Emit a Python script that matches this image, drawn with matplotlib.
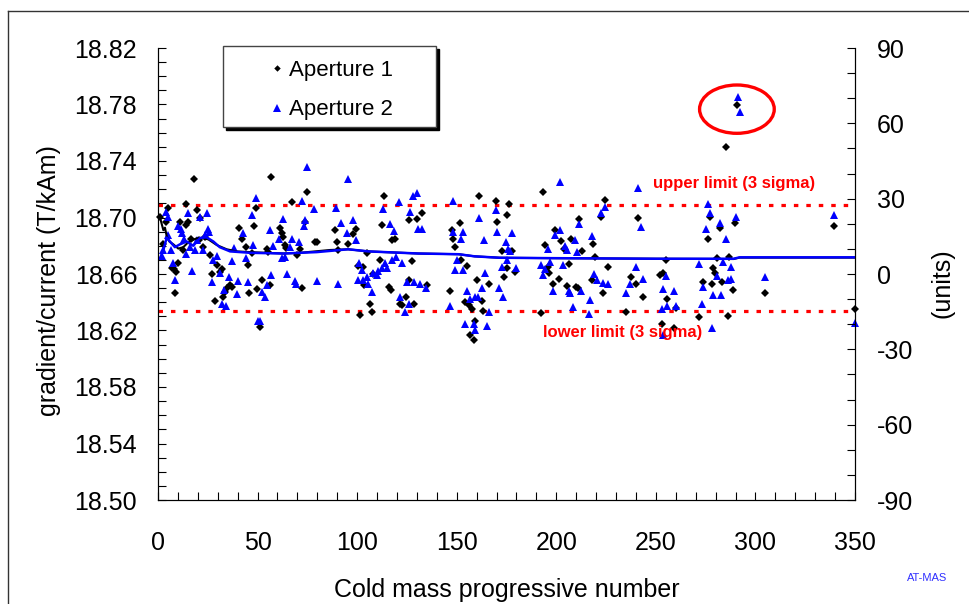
import numpy as np
import matplotlib
matplotlib.use("Agg")
import matplotlib.pyplot as plt
from matplotlib.patches import Ellipse, Rectangle
from matplotlib.ticker import MultipleLocator, FixedLocator

plt.rcParams['font.family'] = ['Liberation Sans', 'DejaVu Sans']
plt.rcParams['axes.unicode_minus'] = False

# aperture 1 (black diamonds)
ap1_x = [1, 2.7, 4, 5.2, 6.9, 8, 9, 8.5, 10.2, 11, 12.7, 14.1, 14.1, 15.2, 16.4, 18.2, 19.4, 20.7, 21.1, 22.8,
         23.6, 26.1, 27, 28.6, 29.5, 31.1, 32, 32.8, 33.7, 34.5, 36.2, 37, 40.8, 42, 44.2, 45.4, 45.7, 47.1, 48.2, 49.2,
         49.9, 51.2, 52.1, 54.6, 55.4, 56.3, 56.8, 61.3, 62.1, 62.9, 63.8, 64.3, 67.2, 69.7, 71.3, 72.2, 73.8, 74.7, 78.9, 79.7,
         88.9, 89.7, 90.6, 95.6, 97.8, 99.4, 100.6, 101.5, 103.1, 103.3, 104.8, 106.5, 107.3, 108.1, 111.5, 112.3, 113.7, 116.2, 117, 117.5,
         119, 121.5, 122.4, 124.6, 125.8, 126.2, 127.4, 128.7, 130, 132.4, 135, 146.6, 147.5, 148.3, 149, 151.7, 152, 154.2, 155, 156,
         157.6, 159.2, 160.4, 161.4, 162.5, 163.4, 156.7, 158.7, 166.4, 169.8, 170.3,
         172.6, 173.8, 175.1, 175.4, 176.4, 177.6, 179.3, 192.2, 193.2, 194.4, 196, 196.5, 198.2, 199.4, 201.5, 202.2, 203.9, 205.3, 206.6, 207.3,
         209.9, 211.1, 211.6, 212.8, 217.8, 218.3, 219.5, 222.3, 223.7, 224.5, 226.2, 235, 237.4, 240.1, 241.2, 243.4, 252.1, 253.5, 253, 255.1,
         255.5, 260.2, 259.2, 271.9, 273.9, 276.4, 277.2, 278.1, 278.9, 279.8, 280.9, 282.3, 283.1, 285.3, 286.4, 286.9, 288.6, 289.8, 290.7, 304.9,
         339.5, 350]
ap1_y = [18.7006, 18.6812, 18.697, 18.7065, 18.664, 18.6635, 18.6616, 18.6468, 18.668, 18.697, 18.677, 18.7096, 18.6947, 18.697, 18.6846, 18.727, 18.7053, 18.6841, 18.6994, 18.6793,
         18.6864, 18.6735, 18.6598, 18.6411, 18.6664, 18.6616, 18.6633, 18.6439, 18.6475, 18.6499, 18.6522, 18.651, 18.6924, 18.6846, 18.6789, 18.6664, 18.6468, 18.6746, 18.694, 18.7065,
         18.6492, 18.6227, 18.6558, 18.6775, 18.6758, 18.6522, 18.7284, 18.6924, 18.6893, 18.686, 18.6805, 18.6782, 18.7108, 18.6735, 18.6775, 18.6499, 18.697, 18.7183, 18.6829, 18.6829,
         18.691, 18.683, 18.677, 18.681, 18.688, 18.692, 18.666, 18.631, 18.665, 18.652, 18.675, 18.639, 18.633, 18.660, 18.670, 18.695, 18.715, 18.651, 18.649, 18.684,
         18.685, 18.639, 18.638, 18.644, 18.656, 18.698, 18.669, 18.639, 18.699, 18.703, 18.652, 18.648, 18.691, 18.685, 18.679, 18.696, 18.670, 18.640, 18.666, 18.638,
         18.635, 18.627, 18.656, 18.715, 18.641, 18.634, 18.617, 18.613, 18.653, 18.712, 18.697,
         18.6765, 18.6577, 18.664, 18.7018, 18.7096, 18.6765, 18.6616, 18.6322, 18.7183, 18.6805, 18.6652, 18.6605, 18.6529, 18.6911, 18.6562, 18.6836, 18.6775, 18.6515, 18.6669, 18.6845,
         18.6506, 18.6499, 18.6987, 18.6763, 18.6558, 18.6812, 18.6718, 18.7006, 18.6468, 18.7124, 18.6652, 18.6333, 18.6577, 18.6529, 18.6999, 18.6435, 18.6593, 18.6605, 18.6246, 18.670,
         18.6421, 18.6357, 18.6216, 18.6294, 18.6546, 18.6846, 18.7001, 18.6529, 18.664, 18.6605, 18.6711, 18.6924, 18.6546, 18.7501, 18.6303, 18.6718, 18.6487, 18.6963, 18.7796, 18.6468,
         18.694, 18.635]

# aperture 2 (blue triangles)
ap2_x = [1.9, 2.7, 4, 5, 5, 6.4, 7.4, 8.5, 10.2, 11.3, 12.3, 13, 14, 15.2, 16.2, 17.3, 18.6, 19.4, 20.9, 22.4,
         23.7, 24.4, 25.3, 25.8, 27, 27.8, 29.5, 31.2, 32, 33.3, 34.1, 35.8, 37, 38.2, 39.5, 40.4, 42.9, 44.2, 45.4, 47,
         47.9, 49.2, 50.4, 51.2, 52, 53.7, 54.5, 56.3, 56.6, 57.9, 61, 62.3, 63, 63.9, 65, 66.2, 67.3, 68.6, 69.4, 71,
         72.2, 73.3, 73.8, 75, 78.5, 79.7,
         89.4, 91.8, 95, 95.6, 97.8, 99.4, 90.6, 101.1, 102.3, 100.6, 103.1, 104.8, 105.6, 107.3, 108.1, 109.8, 110.7, 112.3, 114, 114.8,
         112.8, 116.5, 118.5, 117.4, 119.5, 122.4, 121.2, 121.5, 124, 125.2, 126.2, 126.6, 128, 130, 128.7, 131.6, 134.6, 130.8, 132.4, 147.9,
         148.3, 153.4, 152, 146.7, 150, 149.2, 153.4, 155, 156.7, 159.2, 160.5, 162.6, 154.4, 158.7, 159.2, 165.1, 161.4, 163.7, 164.2, 166.4,
         169.8, 170.1,
         171.4, 172.6, 173.4, 174.8, 175.5, 175.9, 176.8, 177.6, 179.8, 192.2, 193.5, 194.4, 196, 196.9, 198.2, 199.4, 201.9, 201.9, 203.3, 204.4,
         205.6, 206.6, 206.9, 208.3, 209.4, 210.3, 211.6, 212.3, 217, 216.3, 217.8, 219, 220.3, 223.7, 226.2, 222.5, 224.5, 235, 237.1, 240.1,
         241.2, 242.4, 243.4, 253, 253.8, 255.1, 253.5,
         291, 292.3, 276.4, 277.2, 275.2, 282.3, 285.3, 271.9, 273.9, 273.1, 280.6, 278.9, 282.6, 283.6, 286.4, 287.6, 287.6, 290.3, 278.1, 304.9,
         339.5, 350, 259.2, 260.2, 255.5]
ap2_y = [18.673, 18.677, 18.704, 18.7006, 18.6876, 18.677, 18.668, 18.656, 18.694, 18.692, 18.689, 18.6845, 18.674, 18.703, 18.679, 18.662, 18.677, 18.684, 18.7006, 18.677,
         18.6876, 18.703, 18.692, 18.690, 18.654, 18.670, 18.673, 18.6605, 18.639, 18.649, 18.637, 18.658, 18.669, 18.6785, 18.646, 18.655, 18.689, 18.671, 18.654, 18.702,
         18.6805, 18.714, 18.627, 18.627, 18.6475, 18.644, 18.652, 18.691, 18.659, 18.680, 18.6845, 18.671, 18.699, 18.672, 18.660, 18.679, 18.6845, 18.655, 18.653, 18.683,
         18.712, 18.694, 18.698, 18.736, 18.706, 18.655,
         18.7065, 18.696, 18.689, 18.727, 18.698, 18.684, 18.653, 18.668, 18.663, 18.656, 18.656, 18.658, 18.653, 18.647, 18.6605, 18.659, 18.662, 18.664, 18.668, 18.664,
         18.706, 18.6954, 18.6906, 18.670, 18.672, 18.668, 18.711, 18.644, 18.633, 18.6546, 18.639, 18.704, 18.715, 18.717, 18.654, 18.653, 18.650, 18.692, 18.692, 18.712,
         18.690, 18.690, 18.6845, 18.637, 18.670, 18.663, 18.663, 18.648, 18.642, 18.644, 18.644, 18.650, 18.6246, 18.6246, 18.620, 18.6235, 18.700, 18.684, 18.6605, 18.6333,
         18.705, 18.690,
         18.650, 18.6647, 18.644, 18.683, 18.670, 18.6775, 18.6765, 18.6893, 18.664, 18.6664, 18.6593, 18.6633, 18.6775, 18.6688, 18.6482, 18.6876, 18.6911, 18.7251, 18.6664, 18.6798,
         18.677, 18.6482, 18.6463, 18.6369, 18.6841, 18.6758, 18.6954, 18.6482, 18.6416, 18.6317, 18.6869, 18.660, 18.6558, 18.6534, 18.6529, 18.703, 18.7072, 18.6468, 18.6529, 18.6652,
         18.7207, 18.6935, 18.6562, 18.635, 18.6492, 18.6586, 18.617,
         18.7851, 18.7749, 18.7096, 18.703, 18.6917, 18.6963, 18.6846, 18.6671, 18.651, 18.6388, 18.6586, 18.6451, 18.6451, 18.6687, 18.6558, 18.6562, 18.6647, 18.7001, 18.6216, 18.6577,
         18.7018, 18.6255, 18.6482, 18.6374, 18.6374]

# running averages
avg1_x = [0, 1, 2.7, 3.5, 4.4, 5.7, 7.7, 10.2, 12.7, 15.2, 19.4, 22.8, 25.3, 29.5, 34.5, 39.5, 46.3, 54.6, 63, 71.3,
          86.4, 95.5, 105.6, 130.8, 151, 159, 171.6, 200, 250, 289, 292, 350]
avg1_y = [18.700, 18.700, 18.691, 18.6928, 18.6865, 18.683, 18.681, 18.678, 18.679, 18.6825, 18.6853, 18.6853, 18.6845, 18.6805, 18.6775, 18.676, 18.6755, 18.675, 18.6745, 18.675,
          18.677, 18.6775, 18.676, 18.6745, 18.674, 18.6725, 18.6715, 18.6712, 18.6708, 18.6706, 18.6716, 18.6716]
avg2_x = [1, 2.7, 4.4, 6, 8.5, 11, 14.4, 17.7, 21.1, 24.4, 27.8, 31, 36.2, 46.3, 63, 79.7, 95.5, 105.6, 130.8, 151,
          159, 171.6, 200, 250, 289, 292, 350]
avg2_y = [18.671, 18.677, 18.6858, 18.683, 18.679, 18.681, 18.683, 18.680, 18.6855, 18.686, 18.683, 18.679, 18.676, 18.675, 18.6745, 18.6755, 18.6775, 18.676, 18.6745, 18.674,
          18.6725, 18.6715, 18.6712, 18.6708, 18.6708, 18.6718, 18.6718]

upper_limit = 18.709
lower_limit = 18.6335
y_ticks = [18.50, 18.54, 18.58, 18.62, 18.66, 18.70, 18.74, 18.78, 18.82]

fig = plt.figure(figsize=(9.7, 6.04), dpi=100)
ax = fig.add_axes([158/970, 104/604, 697/970, 452/604])

ax.plot(ap1_x, ap1_y, linestyle='none', marker='D', ms=4.1, mew=0, color='black', label='Aperture 1', clip_on=False, zorder=3)
ax.plot(ap2_x, ap2_y, linestyle='none', marker='^', ms=6.4, mew=0, color='#0000ff', label='Aperture 2', clip_on=False, zorder=3)
ax.plot(avg1_x, avg1_y, color='black', lw=1.5, zorder=4)
ax.plot(avg2_x, avg2_y, color='#0000ff', lw=1.8, zorder=4)

ax.axhline(upper_limit, color='red', lw=2.3, linestyle=(0, (1.4, 2.5)), zorder=2)
ax.axhline(lower_limit, color='red', lw=2.3, linestyle=(0, (1.4, 2.5)), zorder=2)
ax.text(248.8, 18.7242, 'upper limit (3 sigma)', color='red', fontsize=12, fontweight='bold', va='center', ha='left')
ax.text(193.2, 18.6184, 'lower limit (3 sigma)', color='red', fontsize=12, fontweight='bold', va='center', ha='left')
ax.add_patch(Ellipse((290.7, 18.7767), 37.5, 0.0342, fill=False, edgecolor='red', lw=2.4, zorder=5))

ax.set_xlim(0, 350)
ax.set_ylim(18.50, 18.82)
ax.xaxis.set_major_locator(MultipleLocator(50))
ax.xaxis.set_minor_locator(MultipleLocator(10))
ax.yaxis.set_major_locator(FixedLocator(y_ticks))
ax.yaxis.set_minor_locator(FixedLocator(np.linspace(18.50, 18.82, 33)))
ax.yaxis.set_major_formatter(matplotlib.ticker.FormatStrFormatter('%.2f'))
ax.spines['top'].set_visible(False)
ax.tick_params(axis='both', which='both', direction='in', length=6, width=0.8)
ax.tick_params(axis='x', which='major', labelsize=18, pad=22)
ax.tick_params(axis='y', which='major', labelsize=18, pad=15)

ax.set_xlabel('Cold mass progressive number', fontsize=18, labelpad=17)
ax.set_ylabel('gradient/current (T/kAm)', fontsize=18)
ax.yaxis.set_label_coords(-0.1385, 0.485)

ax2 = ax.twinx()
ax2.set_ylim(-90, 90)
ax2.yaxis.set_major_locator(MultipleLocator(30))
ax2.yaxis.set_minor_locator(MultipleLocator(10))
ax2.spines['top'].set_visible(False)
ax2.tick_params(axis='y', which='both', direction='in', length=6, width=0.8)
ax2.tick_params(axis='y', which='major', labelsize=18, pad=16)
ax2.set_ylabel('(units)', fontsize=18, rotation=90)
ax2.yaxis.set_label_coords(1.109, 0.48)

# legend box with solid shadow
ax.add_patch(Rectangle((0.0975, 0.8186), 0.3061, 0.1785, transform=ax.transAxes, facecolor='black',
                       edgecolor='black', lw=1, clip_on=False, zorder=6))
ax.add_patch(Rectangle((0.0928, 0.8259), 0.3061, 0.1785, transform=ax.transAxes, facecolor='white',
                       edgecolor='#444444', lw=1, clip_on=False, zorder=7))
leg = ax.legend(loc='upper left', bbox_to_anchor=(0.1611, 0.974), frameon=False, fontsize=16,
                borderpad=0, borderaxespad=0, handlelength=0.6, handletextpad=0.25, labelspacing=0.84,
                markerscale=0.8, numpoints=1)
leg.set_zorder(8)

fig.text(927/970, 1 - 578/604, 'AT-MAS', color='#3030ff', fontsize=8, ha='center', va='center')

# outer frame
fig.add_artist(plt.Line2D([8/970, 1], [1 - 11/604, 1 - 11/604], transform=fig.transFigure, color='#333333', lw=1))
fig.add_artist(plt.Line2D([8/970, 8/970], [0, 1 - 11/604], transform=fig.transFigure, color='#333333', lw=1))

fig.savefig('out.png', dpi=100)
